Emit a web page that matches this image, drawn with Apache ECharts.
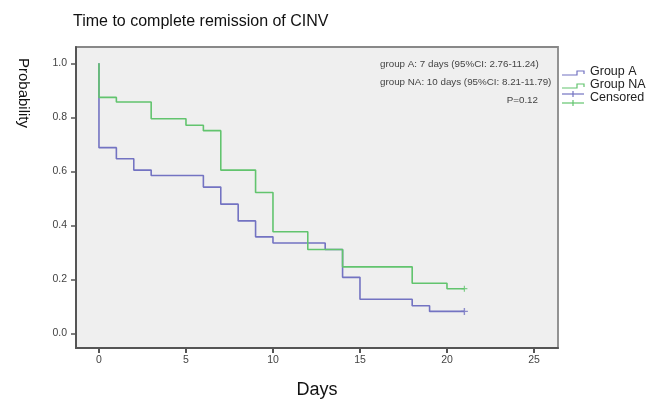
<!DOCTYPE html>
<html>
<head>
<meta charset="utf-8">
<script src="https://cdn.jsdelivr.net/npm/echarts@6/dist/echarts.min.js"></script>
<style>
html,body{margin:0;padding:0;background:#fff;}
#c{width:654px;height:404px;}
</style>
</head>
<body>
<div id="c"></div>
<script>
// Kaplan-Meier step data (days, survival probability)
var daysA = [0, 0, 1, 2, 3, 6, 7, 8, 9, 10, 13, 14, 15, 18, 19, 21];
var survA = [1.0, 0.688, 0.647, 0.605, 0.585, 0.542, 0.479, 0.417, 0.358, 0.335, 0.311, 0.208, 0.127, 0.103, 0.082, 0.082];
var daysNA = [0, 0, 1, 3, 5, 6, 7, 9, 10, 12, 14, 18, 20, 21];
var survNA = [1.0, 0.874, 0.857, 0.795, 0.771, 0.751, 0.605, 0.522, 0.377, 0.311, 0.247, 0.186, 0.166, 0.166];
var censoredA = [[21, 0.082]];
var censoredNA = [[21, 0.166]];
var xTicks = [0, 5, 10, 15, 20, 25];
var yTicks = [0.0, 0.2, 0.4, 0.6, 0.8, 1.0];
var annotations = [
  'group A: 7 days (95%CI: 2.76-11.24)',
  'group NA: 10 days (95%CI: 8.21-11.79)'
];
var pText = 'P=0.12';

var blue = '#7373c2';
var green = '#62c46e';
var font = '"Liberation Sans", Arial, sans-serif';
var plusPath = 'path://M4,0L6,0L6,4L10,4L10,6L6,6L6,10L4,10L4,6L0,6L0,4L4,4Z';

function zip(a, b) { return a.map(function (v, i) { return [v, b[i]]; }); }

var chart = echarts.init(document.getElementById('c'), null, {renderer: 'canvas'});
chart.setOption({
  animation: false,
  backgroundColor: '#fff',
  title: {
    text: 'Time to complete remission of CINV',
    left: 68, top: 9,
    textStyle: {fontFamily: font, fontSize: 16, fontWeight: 'normal', color: '#111'}
  },
  grid: {
    left: 76, right: 96, top: 47, bottom: 44,
    show: true, backgroundColor: '#efefef', borderColor: '#888', borderWidth: 1.8
  },
  xAxis: {
    type: 'value', min: -1.32, max: 26.38,
    name: 'Days', nameLocation: 'middle', nameGap: 33,
    nameTextStyle: {fontFamily: font, fontSize: 18, color: '#111'},
    axisLine: {show: true, onZero: false, lineStyle: {color: '#555', width: 2}},
    axisTick: {show: true, customValues: xTicks, length: 5, lineStyle: {color: '#555', width: 2}},
    axisLabel: {customValues: xTicks, margin: 7, fontFamily: font, fontSize: 10.5, color: '#444',
      formatter: function (v) { return String(v); }},
    splitLine: {show: false}
  },
  yAxis: {
    type: 'value', min: -0.0534, max: 1.0605,
    axisLine: {show: true, onZero: false, lineStyle: {color: '#555', width: 2}},
    axisTick: {show: true, customValues: yTicks, length: 5, lineStyle: {color: '#555', width: 1.5}},
    axisLabel: {customValues: yTicks, margin: 9, fontFamily: font, fontSize: 10.5, color: '#444',
      formatter: function (v) { return v.toFixed(1); }},
    splitLine: {show: false}
  },
  series: [
    {type: 'line', step: 'end', data: zip(daysA, survA), showSymbol: false, symbol: 'none',
      lineStyle: {color: blue, width: 1.6}, z: 2},
    {type: 'line', step: 'end', data: zip(daysNA, survNA), showSymbol: false, symbol: 'none',
      lineStyle: {color: green, width: 1.6}, z: 3},
    {type: 'scatter', data: censoredA, symbol: plusPath, symbolSize: 7, itemStyle: {color: blue}, z: 4},
    {type: 'scatter', data: censoredNA, symbol: plusPath, symbolSize: 6, itemStyle: {color: green}, z: 4}
  ],
  graphic: [
    {type: 'text', left: 16, top: 58, rotation: -Math.PI / 2, originX: 0, originY: 0,
      style: {text: 'Probability', fontFamily: font, fontSize: 15, fill: '#111'}},
    {type: 'text', x: 380, y: 64, style: {text: annotations[0], fontFamily: font, fontSize: 9.8, fill: '#444', verticalAlign: 'middle'}},
    {type: 'text', x: 380, y: 82, style: {text: annotations[1], fontFamily: font, fontSize: 9.8, fill: '#444', verticalAlign: 'middle'}},
    {type: 'text', x: 538, y: 100, style: {text: pText, fontFamily: font, fontSize: 9.8, fill: '#444', align: 'right', verticalAlign: 'middle'}},
    // legend
    {type: 'polyline', shape: {points: [[562, 75], [577, 75], [577, 71], [584, 71], [584, 74]]}, style: {stroke: blue, lineWidth: 1.2, fill: null}},
    {type: 'polyline', shape: {points: [[562, 88], [577, 88], [577, 84], [584, 84], [584, 87]]}, style: {stroke: green, lineWidth: 1.2, fill: null}},
    {type: 'line', shape: {x1: 562, y1: 94, x2: 584, y2: 94}, style: {stroke: blue, lineWidth: 1.2}},
    {type: 'line', shape: {x1: 573, y1: 91, x2: 573, y2: 97}, style: {stroke: blue, lineWidth: 1.2}},
    {type: 'line', shape: {x1: 562, y1: 103, x2: 584, y2: 103}, style: {stroke: green, lineWidth: 1.2}},
    {type: 'line', shape: {x1: 573, y1: 100, x2: 573, y2: 106}, style: {stroke: green, lineWidth: 1.2}},
    {type: 'text', x: 590, y: 72, style: {text: 'Group A', fontFamily: font, fontSize: 12.5, fill: '#222', verticalAlign: 'middle'}},
    {type: 'text', x: 590, y: 85, style: {text: 'Group NA', fontFamily: font, fontSize: 12.5, fill: '#222', verticalAlign: 'middle'}},
    {type: 'text', x: 590, y: 98, style: {text: 'Censored', fontFamily: font, fontSize: 12.5, fill: '#222', verticalAlign: 'middle'}}
  ]
});
</script>
</body>
</html>
